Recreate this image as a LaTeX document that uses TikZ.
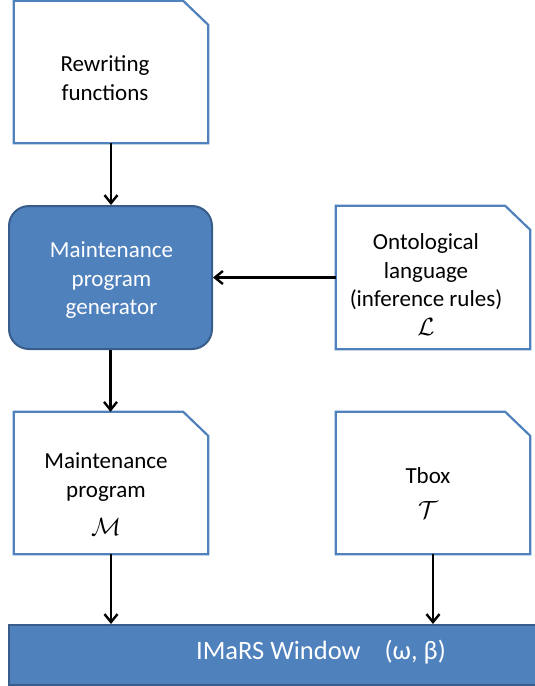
\documentclass[tikz,border=0pt]{standalone}
\usepackage{fontspec}
\setmainfont{Carlito}
\usetikzlibrary{arrows.meta}
\definecolor{accblue}{HTML}{4F81BD}
\definecolor{accdark}{HTML}{385D8A}
\newcommand\drawdoc[1]{\draw[docline] (#1.south west) -- (#1.north west) -- ([xshift=-25pt]#1.north east) -- ([yshift=-24pt]#1.north east) -- (#1.south east) -- cycle;}
\tikzset{
  box/.style={rectangle, draw=none, inner sep=0pt, minimum width=194pt, minimum height=142pt},
  docline/.style={draw=accblue, line width=2.2pt, fill=white, line join=miter},
  txt/.style={align=center, inner sep=0pt, font=\fontsize{23}{28.5}\selectfont},
  flow/.style={draw=black, line width=2.4pt, -{Straight Barb[length=8pt,width=13pt]}},
}
\begin{document}
\begin{tikzpicture}[x=1pt,y=-1pt]
\useasboundingbox (0,0) rectangle (535,686);
\clip (0,0) rectangle (535,686);

\node[box] (rw) at (111,72) {};
\node[box, minimum height=143pt] (ont) at (433,277.5) {};
\node[box] (mp) at (111,483) {};
\node[box] (tb) at (433,483) {};
\drawdoc{rw}
\drawdoc{ont}
\drawdoc{mp}
\drawdoc{tb}

\node[rectangle, rounded corners=20pt, draw=accdark, line width=2pt, fill=accblue,
      minimum width=203pt, minimum height=143pt, inner sep=0pt] (gen) at (110.5,277.5) {};
\node[rectangle, draw=accdark, line width=2pt, fill=accblue,
      minimum width=531pt, minimum height=60pt, inner sep=0pt] (bar) at (274.5,655) {};

\node[txt] (rwt) at (105,78) {Rewriting\\functions};
\node[txt, text=white] (gent) at (111.5,280.5) {Maintenance\\program\\generator};
\node[txt] (ontt) at (426,284.5) {Ontological\\language\\(inference rules)\\$\mathcal{L}$};
\node[txt] (mpt) at (106,494.5) {Maintenance\\program\\[10pt]$\mathcal{M}$};
\node[txt] (tbt) at (428,493) {Tbox\\[6pt]$\mathcal{T}$};
\node[txt, text=white, font=\fontsize{26.5}{30}\selectfont] (bart) at (321,652) {IMaRS Window\hspace{24pt}(ω, β)};

\draw[flow] (rw.south) -- (rw.south |- gen.north);
\draw[flow] (ont.west) -- (gen.east);
\draw[flow] (gen.south) -- (gen.south |- mp.north);
\draw[flow] (mp.south) -- (mp.south |- bar.north);
\draw[flow] (tb.south) -- (tb.south |- bar.north);
\end{tikzpicture}
\end{document}
